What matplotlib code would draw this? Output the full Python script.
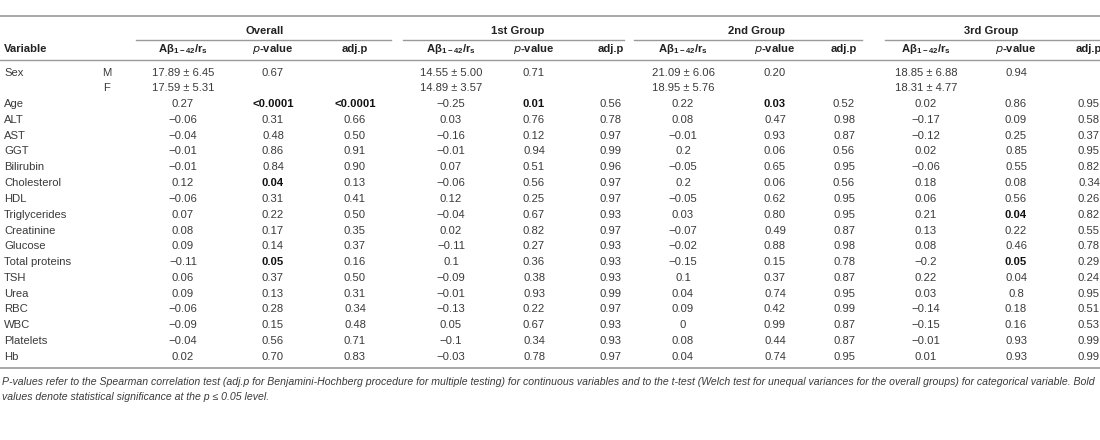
import matplotlib
matplotlib.use("Agg")
import matplotlib.pyplot as plt

plt.rcParams['font.family'] = ['Liberation Sans', 'DejaVu Sans']
plt.rcParams['mathtext.default'] = 'regular'

# ---- table data ----
variables = ["Sex", "", "Age", "ALT", "AST", "GGT", "Bilirubin", "Cholesterol", "HDL",
             "Triglycerides", "Creatinine", "Glucose", "Total proteins", "TSH", "Urea",
             "RBC", "WBC", "Platelets", "Hb"]
sex_levels = ["M", "F"]

groups = ["Overall", "1st Group", "2nd Group", "3rd Group"]

overall_r = ["17.89 ± 6.45", "17.59 ± 5.31", "0.27", "−0.06", "−0.04", "−0.01", "−0.01", "0.12",
             "−0.06", "0.07", "0.08", "0.09", "−0.11", "0.06", "0.09", "−0.06", "−0.09", "−0.04", "0.02"]
overall_p = ["0.67", "", "<0.0001", "0.31", "0.48", "0.86", "0.84", "0.04", "0.31", "0.22", "0.17",
             "0.14", "0.05", "0.37", "0.13", "0.28", "0.15", "0.56", "0.70"]
overall_adj = ["", "", "<0.0001", "0.66", "0.50", "0.91", "0.90", "0.13", "0.41", "0.50", "0.35",
               "0.37", "0.16", "0.50", "0.31", "0.34", "0.48", "0.71", "0.83"]

g1_r = ["14.55 ± 5.00", "14.89 ± 3.57", "−0.25", "0.03", "−0.16", "−0.01", "0.07", "−0.06", "0.12",
        "−0.04", "0.02", "−0.11", "0.1", "−0.09", "−0.01", "−0.13", "0.05", "−0.1", "−0.03"]
g1_p = ["0.71", "", "0.01", "0.76", "0.12", "0.94", "0.51", "0.56", "0.25", "0.67", "0.82", "0.27",
        "0.36", "0.38", "0.93", "0.22", "0.67", "0.34", "0.78"]
g1_adj = ["", "", "0.56", "0.78", "0.97", "0.99", "0.96", "0.97", "0.97", "0.93", "0.97", "0.93",
          "0.93", "0.93", "0.99", "0.97", "0.93", "0.93", "0.97"]

g2_r = ["21.09 ± 6.06", "18.95 ± 5.76", "0.22", "0.08", "−0.01", "0.2", "−0.05", "0.2", "−0.05",
        "0.03", "−0.07", "−0.02", "−0.15", "0.1", "0.04", "0.09", "0", "0.08", "0.04"]
g2_p = ["0.20", "", "0.03", "0.47", "0.93", "0.06", "0.65", "0.06", "0.62", "0.80", "0.49", "0.88",
        "0.15", "0.37", "0.74", "0.42", "0.99", "0.44", "0.74"]
g2_adj = ["", "", "0.52", "0.98", "0.87", "0.56", "0.95", "0.56", "0.95", "0.95", "0.87", "0.98",
          "0.78", "0.87", "0.95", "0.99", "0.87", "0.87", "0.95"]

g3_r = ["18.85 ± 6.88", "18.31 ± 4.77", "0.02", "−0.17", "−0.12", "0.02", "−0.06", "0.18", "0.06",
        "0.21", "0.13", "0.08", "−0.2", "0.22", "0.03", "−0.14", "−0.15", "−0.01", "0.01"]
g3_p = ["0.94", "", "0.86", "0.09", "0.25", "0.85", "0.55", "0.08", "0.56", "0.04", "0.22", "0.46",
        "0.05", "0.04", "0.8", "0.18", "0.16", "0.93", "0.93"]
g3_adj = ["", "", "0.95", "0.58", "0.37", "0.95", "0.82", "0.34", "0.26", "0.82", "0.55", "0.78",
          "0.29", "0.24", "0.95", "0.51", "0.53", "0.99", "0.99"]

columns = [overall_r, overall_p, overall_adj, g1_r, g1_p, g1_adj,
           g2_r, g2_p, g2_adj, g3_r, g3_p, g3_adj]

# (row index, column index) of the bold (significant) cells
bold_cells = [(2, 1), (2, 2), (7, 1), (12, 1), (2, 4), (2, 7), (9, 10), (12, 10)]

footnote = ["P-values refer to the Spearman correlation test (adj.p for Benjamini-Hochberg procedure "
            "for multiple testing) for continuous variables and to the t-test (Welch test for unequal "
            "variances for the overall groups) for categorical variable. Bold",
            "values denote statistical significance at the p ≤ 0.05 level."]

# ---- layout (pixels) ----
col_x = [183, 273, 355, 451, 534, 611, 683, 775, 844, 926, 1016, 1089]
group_span = [(136, 391), (403, 624), (634, 862), (885, 1100)]
group_x = [265, 518, 756, 991]
row_y0, row_dy = 72.5, 15.8
txt = "#3a3a3a"
head_c = "#222222"
line_c = "#9a9a9a"
fs = 8.1

fig = plt.figure(figsize=(11, 4.4), dpi=100)
ax = fig.add_axes([0, 0, 1, 1])
ax.set_xlim(0, 1100)
ax.set_ylim(440, 0)
ax.axis("off")

# rules
ax.plot([0, 1100], [16, 16], color=line_c, lw=1.2)
ax.plot([0, 1100], [60.5, 60.5], color=line_c, lw=1.0)
ax.plot([0, 1100], [368, 368], color=line_c, lw=1.2)
for (x0, x1), gx, g in zip(group_span, group_x, groups):
    ax.plot([x0, x1], [40.5, 40.5], color=line_c, lw=1.0)
    ax.text(gx, 30.5, g, ha="center", va="center", fontsize=fs,
            fontweight="bold", color=head_c)

# column headers
ax.text(4, 48.5, "Variable", ha="left", va="center", fontsize=fs, fontweight="bold", color=head_c)
head = ["A\u03b2$_{1\u221242}$/r$_{s}$", "$\\it{p}$-value", "adj.p"]
for i, x in enumerate(col_x):
    ax.text(x, 48.5, head[i % 3], ha="center", va="center", fontsize=fs,
            fontweight="bold", color=head_c)

# body
for r, name in enumerate(variables):
    y = row_y0 + r * row_dy
    ax.text(4, y, name, ha="left", va="center", fontsize=fs, color=txt)
    if r < 2:
        ax.text(107, y, sex_levels[r], ha="center", va="center", fontsize=fs, color=txt)
    for c, x in enumerate(col_x):
        s = columns[c][r]
        if not s:
            continue
        bold = (r, c) in bold_cells
        ax.text(x, y, s, ha="center", va="center", fontsize=fs, color="#111111" if bold else txt,
                fontweight="bold" if bold else "normal")

# footnote
for i, line in enumerate(footnote):
    ax.text(2, 382 + i * 14.5, line, ha="left", va="center", fontsize=7.55, style="italic",
            color=txt, family=['Liberation Sans Narrow', 'Liberation Sans', 'DejaVu Sans'])

fig.savefig("out.png", dpi=100)
